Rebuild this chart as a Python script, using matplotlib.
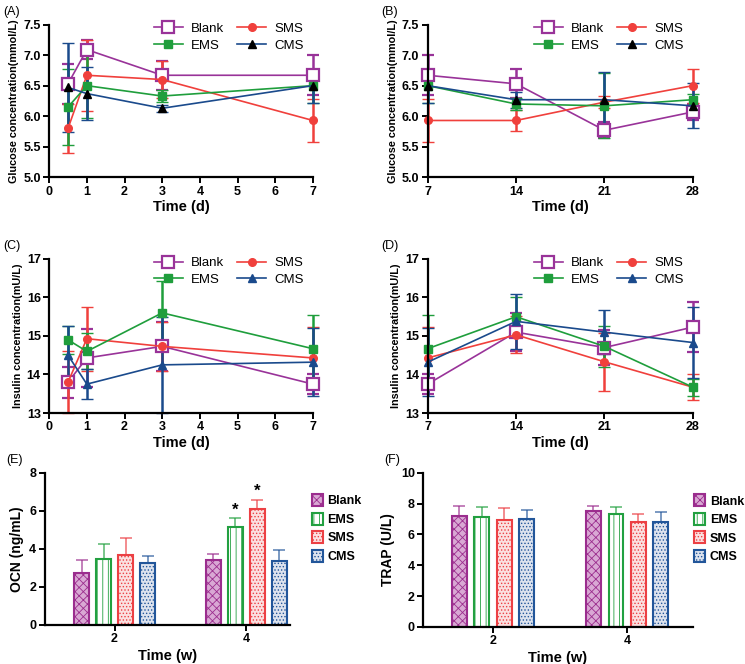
# Glucose, insulin, OCN and TRAP panels (A)-(F)

import numpy as np
from matplotlib import pyplot as plt

plt.rcParams['font.family'] = ['Liberation Sans', 'DejaVu Sans']
plt.rcParams['hatch.linewidth'] = 0.6

groups = ['Blank', 'EMS', 'SMS', 'CMS']

# early time points (d) and late time points (d)
t_early = [0.5, 1, 3, 7]
t_late = [7, 14, 21, 28]

# glucose (mmol/L), mean and SD
glu_early = {
    'Blank': [6.53, 7.09, 6.67, 6.67],
    'EMS':   [6.15, 6.50, 6.33, 6.50],
    'SMS':   [5.80, 6.67, 6.60, 5.93],
    'CMS':   [6.47, 6.37, 6.13, 6.50],
}
glu_early_sd = {
    'Blank': [0.33, 0.16, 0.24, 0.33],
    'EMS':   [0.62, 0.53, 0.10, 0.28],
    'SMS':   [0.40, 0.58, 0.30, 0.35],
    'CMS':   [0.73, 0.43, 0.06, 0.28],
}
glu_late = {
    'Blank': [6.67, 6.53, 5.77, 6.07],
    'EMS':   [6.50, 6.20, 6.17, 6.27],
    'SMS':   [5.93, 5.93, 6.23, 6.50],
    'CMS':   [6.50, 6.27, 6.27, 6.17],
}
glu_late_sd = {
    'Blank': [0.33, 0.24, 0.13, 0.13],
    'EMS':   [0.28, 0.10, 0.53, 0.10],
    'SMS':   [0.35, 0.17, 0.10, 0.28],
    'CMS':   [0.28, 0.13, 0.46, 0.37],
}

# insulin (mU/L), mean and SD
ins_early = {
    'Blank': [13.80, 14.43, 14.73, 13.75],
    'EMS':   [14.90, 14.60, 15.60, 14.67],
    'SMS':   [13.80, 14.93, 14.73, 14.43],
    'CMS':   [14.50, 13.75, 14.25, 14.32],
}
ins_early_sd = {
    'Blank': [0.40, 0.75, 0.63, 0.25],
    'EMS':   [0.37, 0.47, 0.83, 0.88],
    'SMS':   [0.80, 0.83, 0.63, 0.81],
    'CMS':   [0.77, 0.39, 1.25, 0.88],
}
ins_late = {
    'Blank': [13.75, 15.10, 14.70, 15.23],
    'EMS':   [14.67, 15.50, 14.73, 13.67],
    'SMS':   [14.43, 15.03, 14.33, 13.67],
    'CMS':   [14.32, 15.38, 15.10, 14.83],
}
ins_late_sd = {
    'Blank': [0.25, 0.50, 0.45, 0.65],
    'EMS':   [0.88, 0.50, 0.54, 0.22],
    'SMS':   [0.81, 0.48, 0.75, 0.34],
    'CMS':   [0.88, 0.72, 0.57, 0.93],
}

# bar panels: weeks
weeks = ['2', '4']
ocn = {'Blank': [2.75, 3.40], 'EMS': [3.45, 5.17], 'SMS': [3.67, 6.07], 'CMS': [3.27, 3.35]}
ocn_sd = {'Blank': [0.65, 0.30], 'EMS': [0.80, 0.43], 'SMS': [0.90, 0.50], 'CMS': [0.37, 0.58]}
trap = {'Blank': [7.20, 7.55], 'EMS': [7.10, 7.30], 'SMS': [6.95, 6.78], 'CMS': [7.00, 6.83]}
trap_sd = {'Blank': [0.63, 0.28], 'EMS': [0.67, 0.50], 'SMS': [0.75, 0.53], 'CMS': [0.58, 0.62]}
ocn_star = {'EMS': [None, '*'], 'SMS': [None, '*']}

line_col = {'Blank': '#993399', 'EMS': '#1f9e3c', 'SMS': '#f0403c', 'CMS': '#1a4a8c'}
bar_edge = {'Blank': '#9b2d8e', 'EMS': '#22a040', 'SMS': '#ec4044', 'CMS': '#22569a'}
bar_face = {'Blank': '#d9a8d4', 'EMS': '#ffffff', 'SMS': '#fbe0e0', 'CMS': '#dde3ee'}
bar_hatch = {'Blank': 'xxxx', 'EMS': '|||', 'SMS': '.....', 'CMS': '.....'}

fig = plt.figure(figsize=(7.45, 6.64), dpi=100)


def style(ax):
    for s in ['top', 'right']:
        ax.spines[s].set_visible(False)
    for s in ['left', 'bottom']:
        ax.spines[s].set_linewidth(1.6)
    ax.tick_params(width=1.4, length=4, labelsize=9, pad=2)
    for lab in ax.get_xticklabels() + ax.get_yticklabels():
        lab.set_fontweight('bold')


def line_panel(rect, x, data, sd, tri_col, ylim, yticks, yfmt, ylabel, letter, xlim, xticks):
    ax = fig.add_axes(rect)
    order = ['Blank', 'SMS', 'EMS', 'CMS']
    mk = {'Blank': 's', 'SMS': 'o', 'EMS': 's', 'CMS': '^'}
    handles = {}
    for g in order:
        mfc = 'white' if g == 'Blank' else line_col[g]
        mec = line_col[g]
        if g == 'CMS':
            mfc = tri_col
            mec = tri_col
        ms = 9 if g == 'Blank' else 5.5
        h = ax.errorbar(x, data[g], yerr=sd[g], color=line_col[g], marker=mk[g],
                        ms=ms, mfc=mfc, mec=mec, mew=1.6 if g == 'Blank' else 1,
                        lw=1.2, elinewidth=1.8, capsize=4, capthick=1.8,
                        label=g, clip_on=False)
        handles[g] = h
    ax.set_xlim(*xlim)
    ax.set_xticks(xticks)
    ax.set_ylim(*ylim)
    ax.set_yticks(yticks)
    ax.set_yticklabels([yfmt.format(v) for v in yticks])
    ax.set_xlabel('Time (d)', fontsize=10.5, fontweight='bold', labelpad=2)
    ax.set_ylabel(ylabel, fontsize=7.8, fontweight='bold', labelpad=3)
    leg_h = [handles[g][0] for g in ['Blank', 'EMS', 'SMS', 'CMS']]
    ax.legend(leg_h, ['Blank', 'EMS', 'SMS', 'CMS'], ncol=2, frameon=False,
              loc='upper right', bbox_to_anchor=(1.01, 1.09), fontsize=9.5,
              handlelength=2.2, columnspacing=1.0, labelspacing=0.35,
              handletextpad=0.6)
    style(ax)
    fig.text(rect[0] - 0.062, rect[1] + rect[3] + 0.015, letter, fontsize=9)
    return ax


line_panel([0.066, 0.733, 0.354, 0.230], t_early, glu_early, glu_early_sd, 'black',
           (5.0, 7.5), np.arange(5.0, 7.6, 0.5), '{:.1f}', 'Glucose concentration(mmol/L)',
           '(A)', (0, 7), range(0, 8))
line_panel([0.574, 0.733, 0.356, 0.230], t_late, glu_late, glu_late_sd, 'black',
           (5.0, 7.5), np.arange(5.0, 7.6, 0.5), '{:.1f}', 'Glucose concentration(mmol/L)',
           '(B)', (7, 28), t_late)
line_panel([0.066, 0.378, 0.354, 0.232], t_early, ins_early, ins_early_sd, line_col['CMS'],
           (13, 17), range(13, 18), '{}', 'Insulin concentration(mU/L)',
           '(C)', (0, 7), range(0, 8))
line_panel([0.574, 0.378, 0.356, 0.232], t_late, ins_late, ins_late_sd, line_col['CMS'],
           (13, 17), range(13, 18), '{}', 'Insulin concentration(mU/L)',
           '(D)', (7, 28), t_late)


def bar_panel(rect, data, sd, ylim, yticks, ylabel, letter, xlim, leg_x, stars=None):
    ax = fig.add_axes(rect)
    xpos = np.arange(len(weeks))
    w = 0.11
    offs = [-1.5, -0.5, 0.5, 1.5]
    handles = []
    for i, g in enumerate(groups):
        xs = xpos + offs[i] * 0.167
        ax.errorbar(xs, data[g], yerr=[np.zeros(len(weeks)), sd[g]], fmt='none',
                    ecolor=bar_edge[g], elinewidth=1.2, capsize=4, capthick=1.2,
                    alpha=0.7, zorder=1)
        b = ax.bar(xs, data[g], w, color=bar_face[g], edgecolor=bar_edge[g],
                   hatch=bar_hatch[g], linewidth=1.5, zorder=2)
        handles.append(b)
        if stars and g in stars:
            for j, s in enumerate(stars[g]):
                if s:
                    ax.text(xs[j], data[g][j] + sd[g][j] + 0.05, s, ha='center',
                            va='bottom', fontsize=12, fontweight='bold')
    ax.set_xlim(*xlim)
    ax.set_xticks(xpos)
    ax.set_xticklabels(weeks)
    ax.set_ylim(*ylim)
    ax.set_yticks(yticks)
    ax.set_xlabel('Time (w)', fontsize=10.5, fontweight='bold', labelpad=3)
    ax.set_ylabel(ylabel, fontsize=10, fontweight='bold')
    ax.legend(handles, groups, frameon=False, loc='upper left',
              bbox_to_anchor=(leg_x, 0.86), handlelength=0.9,
              handleheight=1.1, handletextpad=0.35, labelspacing=0.42,
              borderaxespad=0, borderpad=0,
              prop={'weight': 'bold', 'size': 9})
    style(ax)
    fig.text(rect[0] - 0.052, rect[1] + rect[3] + 0.015, letter, fontsize=9)
    return ax


bar_panel([0.060, 0.059, 0.329, 0.229], ocn, ocn_sd, (0, 8), range(0, 9, 2),
          'OCN (ng/mL)', '(E)', (-0.53, 1.33), 1.09, ocn_star)
bar_panel([0.568, 0.056, 0.362, 0.232], trap, trap_sd, (0, 10), range(0, 11, 2),
          'TRAP (U/L)', '(F)', (-0.52, 1.49), 1.005)

plt.savefig('out.png', dpi=100)
